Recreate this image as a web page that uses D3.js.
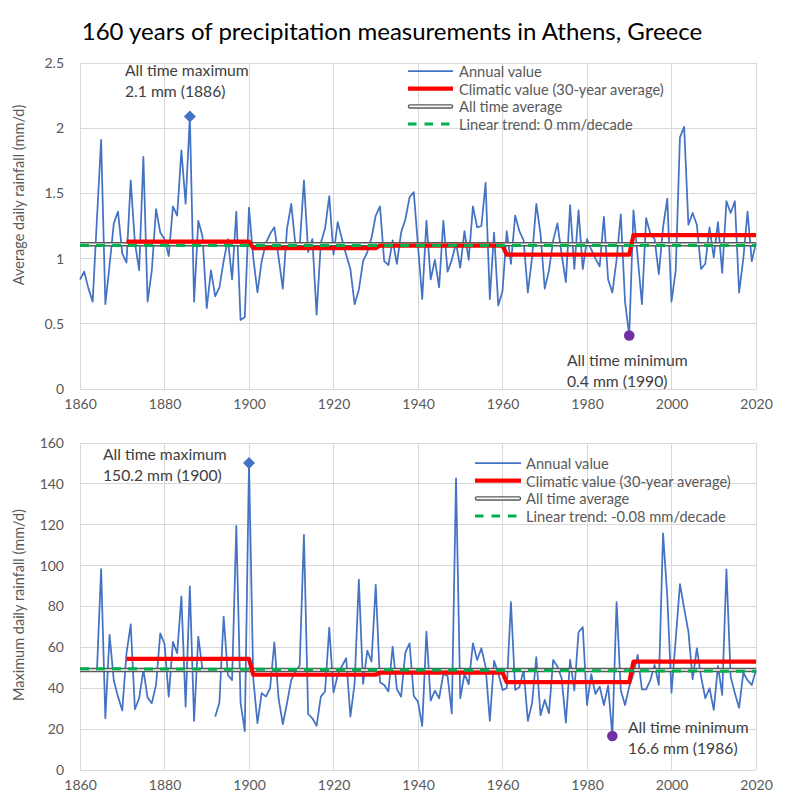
<!DOCTYPE html>
<html><head><meta charset="utf-8">
<script src="https://cdn.jsdelivr.net/npm/d3@7"></script>
<style>
body{margin:0;background:#fff}
svg{display:block}
text{font-family:Lato,"Open Sans",sans-serif}
</style>
</head><body>
<svg id="c" width="785" height="804"></svg>
<script>
// ---------- DATA ----------
const years = d3.range(1860, 2021);

// Average daily rainfall (mm/d), 1860..2020
const avgDaily = [
0.84,0.90,0.77,0.67,1.30,1.91,0.65,0.95,1.27,1.36,
1.04,0.97,1.60,1.12,0.91,1.78,0.67,0.91,1.38,1.20,
1.15,1.02,1.40,1.33,1.83,1.42,2.09,0.67,1.29,1.17,
0.62,0.91,0.71,0.78,0.98,1.15,0.84,1.36,0.53,0.55,
1.39,1.01,0.74,0.98,1.12,1.19,1.24,1.01,0.77,1.23,
1.42,1.10,1.09,1.60,1.05,1.15,0.57,1.12,1.23,1.48,
1.03,1.28,1.15,1.03,0.92,0.65,0.76,0.98,1.05,1.16,
1.33,1.40,0.98,0.95,1.14,0.96,1.20,1.30,1.47,1.51,
1.10,0.69,1.29,0.84,0.99,0.78,1.29,0.90,0.99,1.12,
0.93,1.21,0.99,1.40,1.24,1.25,1.58,0.69,1.20,0.64,
0.75,1.21,0.96,1.33,1.21,1.14,0.74,1.01,1.42,1.19,
0.77,0.91,1.14,1.27,1.03,0.82,1.41,0.92,1.37,0.92,
1.15,1.07,1.00,0.94,1.32,0.84,0.74,0.99,1.34,0.67,
0.41,1.37,1.01,0.65,1.31,1.19,1.15,0.88,1.24,1.46,
0.67,0.91,1.93,2.01,1.26,1.35,1.26,0.92,0.96,1.24,
1.01,1.28,0.89,1.44,1.35,1.44,0.74,1.00,1.36,0.98,
1.12];

// Maximum daily rainfall (mm/d), 1860..2020 (null = missing)
const maxDaily = [
null,null,null,null,48,98.3,25.3,66.1,43.8,35.9,
29.1,57,71.3,29.7,35.1,49,35.4,32.7,41.6,66.9,
61.7,35.9,62.7,57.1,84.9,31,89.8,24,65.3,49,
null,null,26,33,75,46.5,44,119.5,33,19,
150.2,45,22.9,37.6,35.9,40,62.4,35.1,22.4,32.7,
44.1,48.2,51.1,115.1,27.4,25.3,21.6,35.9,38.4,69.7,
37.9,46.5,50.9,54.7,26.1,42.4,93.1,42.1,58.4,53.1,
90.6,42.9,41.6,38.4,60.4,39.5,35.9,57.4,62,36.2,
33.4,21.5,67.7,33.9,38.8,35.1,47,46,27.7,142.7,
35.1,47,42,62,53.8,59.6,50.6,24,53.4,47.3,
39.2,40,82.1,39.2,40.5,49,24,32.7,55.2,26.8,
34.3,27.8,53.9,50.6,44.9,23.2,53.9,38.9,67.4,69.9,
31.8,46.9,37.2,40.8,31.8,41.3,16.6,82.1,39,31.8,
40.8,47,56.3,39.5,39.5,44,51.4,41.6,115.8,85,
37.8,64,91,79.1,67.7,44.4,59.5,45.7,35.1,40,
29.4,50.9,36.7,98.2,45.7,37.5,30.5,47.6,44,41.6,
48.9];

const climPeriods = [[1871,1900],[1901,1930],[1931,1960],[1961,1990],[1991,2020]];
const climAvgDaily = [1.13,1.08,1.10,1.03,1.18];
const climMaxDaily = [54.4,46.6,47.6,43.0,53.0];

const allTimeAvgDaily = 1.11;
const allTimeMaxDaily = 48.9;
const trendAvgDaily = [1.10,1.10];     // at 1860, 2020
const trendMaxDaily = [49.6,48.3];     // at 1860, 2020

const xTicks = [1860,1880,1900,1920,1940,1960,1980,2000,2020];
const yTicksAvg = [0,0.5,1,1.5,2,2.5];
const yTicksMax = [0,20,40,60,80,100,120,140,160];

const legendAvg = ["Annual value","Climatic value (30-year average)","All time average","Linear trend: 0 mm/decade"];
const legendMax = ["Annual value","Climatic value (30-year average)","All time average","Linear trend: -0.08 mm/decade"];

const titleText = "160 years of precipitation measurements in Athens, Greece";

// ---------- DRAW ----------
const svg = d3.select("#c");
const BLUE="#4472c4", RED="#ff0000", GRAY="#595959", GREEN="#00b050", PURPLE="#7030a0", GRID="#d9d9d9", TXT="#595959", ANN="#404040";

svg.append("text").attr("x",392).attr("y",30).attr("text-anchor","middle")
  .attr("dominant-baseline","central").attr("font-size",24).attr("fill","#000").text(titleText);

function panel(cfg){
  const x = d3.scaleLinear().domain([1860,2020]).range([80,756]);
  const y = d3.scaleLinear().domain([0,cfg.yMax]).range([cfg.bottom,cfg.top]);
  const g = svg.append("g");

  // grid
  g.selectAll(".hg").data(cfg.yTicks).join("line")
    .attr("x1",x(1860)).attr("x2",x(2020)).attr("y1",d=>y(d)).attr("y2",d=>y(d))
    .attr("stroke",GRID).attr("stroke-width",1).attr("shape-rendering","crispEdges");
  g.selectAll(".vg").data(xTicks).join("line")
    .attr("x1",d=>x(d)).attr("x2",d=>x(d)).attr("y1",y(0)).attr("y2",y(cfg.yMax))
    .attr("stroke",GRID).attr("stroke-width",1).attr("shape-rendering","crispEdges");

  // axes via d3
  const xa = d3.axisBottom(x).tickValues(xTicks).tickFormat(d3.format("d")).tickSize(0).tickPadding(10);
  const xg = g.append("g").attr("transform",`translate(0,${y(0)})`).call(xa);
  xg.select(".domain").remove();
  xg.selectAll("text").attr("font-size",14).attr("fill",TXT).attr("font-family","Lato");
  const ya = d3.axisLeft(y).tickValues(cfg.yTicks).tickFormat(cfg.fmt).tickSize(0).tickPadding(16);
  const yg = g.append("g").attr("transform",`translate(${x(1860)},0)`).call(ya);
  yg.select(".domain").remove();
  yg.selectAll("text").attr("font-size",14).attr("fill",TXT).attr("font-family","Lato");

  // y title
  g.append("text").attr("transform",`translate(18,${cfg.ytitleY}) rotate(-90)`)
    .attr("text-anchor","middle").attr("dominant-baseline","central")
    .attr("font-size",14.5).attr("fill",TXT).text(cfg.ytitle);

  // annual
  const pts = years.map((yr,i)=>({yr, v:cfg.values[i]}));
  const line = d3.line().defined(d=>d.v!=null).x(d=>x(d.yr)).y(d=>y(d.v));
  g.append("path").datum(pts).attr("d",line).attr("fill","none")
    .attr("stroke",BLUE).attr("stroke-width",1.75).attr("stroke-linejoin","round");

  // all time average (double line)
  const avgPts = [{yr:1860,v:cfg.allAvg},{yr:2020,v:cfg.allAvg}];
  g.append("path").datum(avgPts).attr("d",line).attr("stroke",GRAY).attr("stroke-width",4.5).attr("fill","none");
  g.append("path").datum(avgPts).attr("d",line).attr("stroke","#fff").attr("stroke-width",1.6).attr("fill","none");

  // climatic
  const climPts = [];
  cfg.clim.forEach((v,k)=>{
    const [a,b] = climPeriods[k];
    years.filter(yr=>yr>=a&&yr<=b).forEach(yr=>climPts.push({yr,v}));
  });
  g.append("path").datum(climPts).attr("d",line).attr("fill","none")
    .attr("stroke",RED).attr("stroke-width",4.2).attr("stroke-linejoin","round");

  // trend
  const trPts = [{yr:1860,v:cfg.trend[0]},{yr:2020,v:cfg.trend[1]}];
  g.append("path").datum(trPts).attr("d",line).attr("fill","none")
    .attr("stroke",GREEN).attr("stroke-width",3).attr("stroke-dasharray","9,7");

  // markers
  const iMax = d3.maxIndex(cfg.values), iMin = d3.minIndex(cfg.values);
  g.append("path").attr("d",d3.symbol(d3.symbolSquare,72)())
    .attr("transform",`translate(${x(years[iMax])},${y(cfg.values[iMax])}) rotate(45)`).attr("fill",BLUE);
  g.append("circle").attr("cx",x(years[iMin])).attr("cy",y(cfg.values[iMin])).attr("r",5.3).attr("fill",PURPLE);

  // annotations
  cfg.ann.forEach(a=>{
    a.lines.forEach((t,j)=>{
      g.append("text").attr("x",a.x).attr("y",a.y+j*20.5).attr("dominant-baseline","central")
        .attr("font-size",15.7).attr("fill",ANN).text(t);
    });
  });

  // legend
  const L = cfg.legend;
  const ly = k=>L.y+k*17.7;
  g.append("line").attr("x1",L.x0).attr("x2",L.x1).attr("y1",ly(0)).attr("y2",ly(0)).attr("stroke",BLUE).attr("stroke-width",1.75);
  g.append("line").attr("x1",L.x0).attr("x2",L.x1).attr("y1",ly(1)).attr("y2",ly(1)).attr("stroke",RED).attr("stroke-width",4.2);
  g.append("line").attr("x1",L.x0+2).attr("x2",L.x1-2).attr("y1",ly(2)).attr("y2",ly(2)).attr("stroke",GRAY).attr("stroke-width",4.5).attr("stroke-linecap","round");
  g.append("line").attr("x1",L.x0+2).attr("x2",L.x1-2).attr("y1",ly(2)).attr("y2",ly(2)).attr("stroke","#fff").attr("stroke-width",1.6).attr("stroke-linecap","round");
  g.append("line").attr("x1",L.x0).attr("x2",L.x1).attr("y1",ly(3)).attr("y2",ly(3)).attr("stroke",GREEN).attr("stroke-width",3).attr("stroke-dasharray","8.5,8");
  cfg.legendLabels.forEach((t,k)=>{
    g.append("text").attr("x",L.tx).attr("y",ly(k)).attr("dominant-baseline","central")
      .attr("font-size",14.7).attr("fill",TXT).text(t);
  });
}

panel({
  top:63, bottom:389, yMax:2.5, yTicks:yTicksAvg, fmt:d3.format("~g"),
  ytitle:"Average daily rainfall (mm/d)", ytitleY:195,
  values:avgDaily, clim:climAvgDaily, allAvg:allTimeAvgDaily, trend:trendAvgDaily,
  ann:[{x:125,y:70,lines:["All time maximum","2.1 mm (1886)"]},
       {x:567,y:360,lines:["All time minimum","0.4 mm (1990)"]}],
  legend:{x0:408,x1:453,tx:459,y:71},
  legendLabels:legendAvg
});
panel({
  top:443, bottom:770, yMax:160, yTicks:yTicksMax, fmt:d3.format("d"),
  ytitle:"Maximum daily rainfall (mm/d)", ytitleY:605,
  values:maxDaily, clim:climMaxDaily, allAvg:allTimeMaxDaily, trend:trendMaxDaily,
  ann:[{x:103,y:454,lines:["All time maximum","150.2 mm (1900)"]},
       {x:628,y:727,lines:["All time minimum","16.6 mm (1986)"]}],
  legend:{x0:475,x1:521,tx:526,y:463},
  legendLabels:legendMax
});
</script>
</body></html>
